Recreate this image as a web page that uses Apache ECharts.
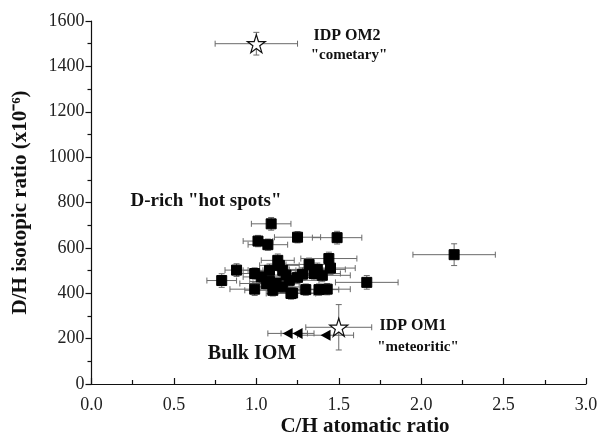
<!DOCTYPE html>
<html><head><meta charset="utf-8">
<script src="https://cdn.jsdelivr.net/npm/echarts@6/dist/echarts.min.js"></script>
<style>html,body{margin:0;padding:0;background:#fff}#c{width:597px;height:438px}</style>
</head><body><div id="c"></div>
<script>
// D-rich "hot spots"
const hotX    = [1.09,1.01,1.07,1.25,1.49,1.44,0.88,0.79,1.67,0.99,1.22,1.30,1.38,1.43,1.45,1.32,1.13,1.08,1.08,1.14,0.99,1.03,1.06,1.10,1.16,1.28,1.35,1.40,1.20,1.12,1.21,1.16,1.25,1.18,1.37,2.20];
const hotY    = [706,630,614,647,645,553,502,456,448,418,401,416,416,418,511,527,545,501,452,523,487,472,443,413,501,484,487,479,457,443,399,428,470,480,505,570];
const hotXErr = [0.12,0.09,0.12,0.14,0.15,0.17,0.07,0.09,0.19,0.15,0.13,0.15,0.12,0.14,0.15,0.14,0.10,0.16,0.12,0.12,0.10,0.11,0.16,0.17,0.12,0.14,0.16,0.17,0.18,0.14,0.15,0.16,0.18,0.14,0.17,0.25];
const hotYErr = [28,25,25,25,28,28,28,30,30,28,25,25,25,25,28,28,28,28,25,25,25,25,25,25,28,28,28,28,25,25,25,25,28,25,28,48];
// Bulk IOM
const iomX    = [1.19,1.25,1.42];
const iomY    = [223,223,215];
const iomXErr = [0.12,0.10,0.17];
// IDP organic matter
const omNames = ['IDP OM2','IDP OM1'];
const omX     = [1.00,1.50];
const omY     = [1500,250];
const omXErr  = [0.25,0.20];
const omYErr  = [50,100];

const errData = [];
hotX.forEach((x,i)=>errData.push([x,hotY[i],hotXErr[i],hotYErr[i]]));
iomX.forEach((x,i)=>errData.push([x,iomY[i],iomXErr[i],0]));
omX.forEach((x,i)=>errData.push([x,omY[i],omXErr[i],omYErr[i]]));

const chart = echarts.init(document.getElementById('c'));
const serif = '"Liberation Serif", "Times New Roman", serif';
const starPath = 'path://M50,0 L61.2,34.5 L97.6,34.5 L68.2,55.9 L79.4,90.5 L50,69.1 L20.6,90.5 L31.8,55.9 L2.4,34.5 L38.8,34.5 Z';

function renderErr(params, api){
  const x=api.value(0), y=api.value(1), ex=api.value(2), ey=api.value(3);
  const c = api.coord([x,y]);
  const l = api.coord([x-ex,y]), r = api.coord([x+ex,y]);
  const t = api.coord([x,y+ey]), b = api.coord([x,y-ey]);
  const st = {stroke:'#6a6a6a', lineWidth:1};
  const ch = [];
  const cap = 3;
  ch.push({type:'line',shape:{x1:l[0],y1:c[1],x2:r[0],y2:c[1]},style:st});
  ch.push({type:'line',shape:{x1:l[0],y1:c[1]-cap,x2:l[0],y2:c[1]+cap},style:st});
  ch.push({type:'line',shape:{x1:r[0],y1:c[1]-cap,x2:r[0],y2:c[1]+cap},style:st});
  if (ey>0){
    ch.push({type:'line',shape:{x1:c[0],y1:t[1],x2:c[0],y2:b[1]},style:st});
    ch.push({type:'line',shape:{x1:c[0]-cap,y1:t[1],x2:c[0]+cap,y2:t[1]},style:st});
    ch.push({type:'line',shape:{x1:c[0]-cap,y1:b[1],x2:c[0]+cap,y2:b[1]},style:st});
  }
  return {type:'group',children:ch};
}

const txt = (t,x,y,size)=>({type:'text',x:x,y:y,style:{text:t,fill:'#111',font:'bold '+size+'px '+serif,textAlign:'center',textVerticalAlign:'middle'}});

chart.setOption({
  animation:false,
  backgroundColor:'#fff',
  grid:{left:91.5,right:11,top:21,bottom:54,containLabel:false,outerBoundsMode:'none'},
  xAxis:{
    type:'value',min:0,max:3,interval:0.5,
    axisLine:{lineStyle:{color:'#111',width:1.2}},
    axisTick:{inside:true,length:6,lineStyle:{color:'#111',width:1.2}},
    minorTick:{show:true,splitNumber:2,length:4,lineStyle:{color:'#111',width:1.2}},
    splitLine:{show:false},
    axisLabel:{color:'#222',fontFamily:serif,fontSize:18,margin:12,formatter:v=>v.toFixed(1),showMaxLabel:true}
  },
  yAxis:{
    type:'value',min:0,max:1600,interval:200,
    axisLine:{show:true,lineStyle:{color:'#111',width:1.2}},
    axisTick:{show:true,inside:false,length:6,lineStyle:{color:'#111',width:1.2}},
    minorTick:{show:true,splitNumber:2,length:4,lineStyle:{color:'#111',width:1.2}},
    splitLine:{show:false},
    axisLabel:{color:'#222',fontFamily:serif,fontSize:18,margin:7,formatter:v=>String(v)},
    name:'D/H isotopic ratio (x10⁻⁶)',nameLocation:'middle',nameGap:60,nameRotate:90,
    nameTextStyle:{color:'#111',fontFamily:serif,fontSize:21,fontWeight:'bold'}
  },
  series:[
    {type:'custom',renderItem:renderErr,data:errData,z:1,silent:true,
     encode:{x:0,y:1}},
    {type:'scatter',data:hotX.map((x,i)=>[x,hotY[i]]),symbol:'rect',symbolSize:10,
     itemStyle:{color:'#000',borderColor:'#000',opacity:1},z:3},
    {type:'scatter',data:iomX.map((x,i)=>[x,iomY[i]]),symbol:'triangle',symbolRotate:90,symbolSize:[11,10],
     itemStyle:{color:'#000',opacity:1},z:3},
    {type:'scatter',data:omX.map((x,i)=>({name:omNames[i],value:[x,omY[i]]})),symbol:starPath,symbolSize:18,
     itemStyle:{color:'#fff',borderColor:'#111',borderWidth:1.2,opacity:1},z:4}
  ],
  graphic:[
    txt('C/H atomatic ratio',365,427,21),
    txt('IDP OM2',347,36,16),
    txt('"cometary"',349,55,15),
    txt('D-rich "hot spots"',206,201,19),
    txt('IDP OM1',413,326,16),
    txt('"meteoritic"',418,347,15),
    txt('Bulk IOM',252,354,20)
  ]
});
</script></body></html>
